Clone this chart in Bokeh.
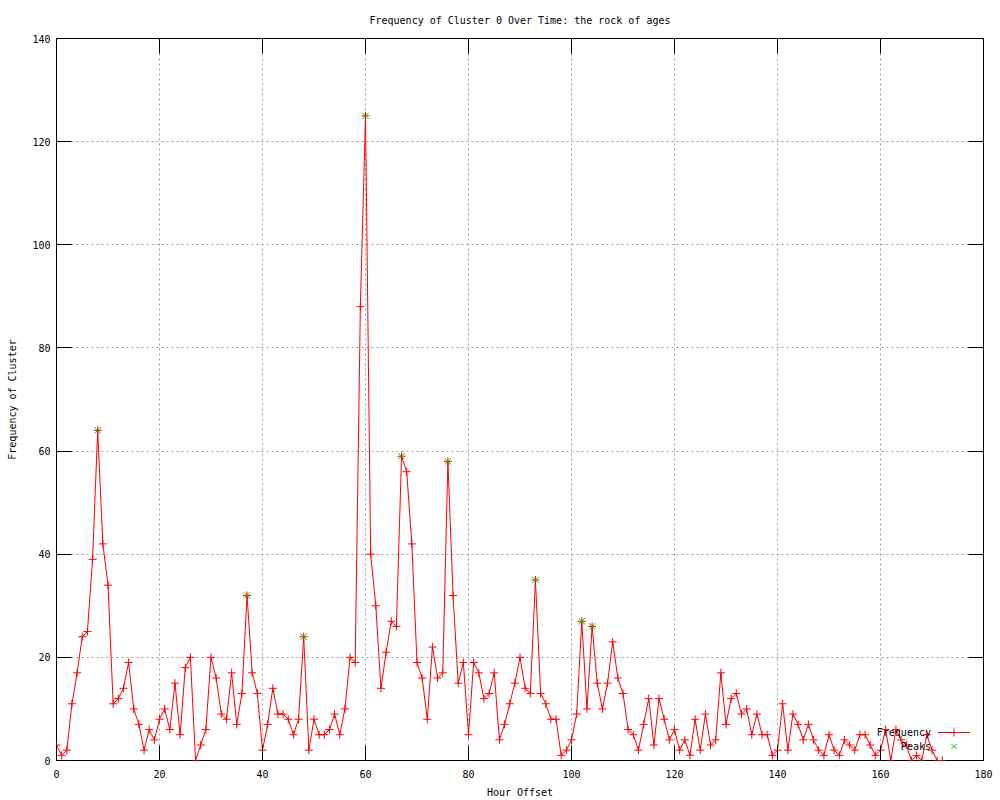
from bokeh.plotting import figure
from bokeh.models import Range1d, FixedTicker, LinearAxis, Legend, LegendItem, Label
from bokeh.embed import file_html
from bokeh.resources import INLINE

# ---- data ----
frequency = [
    3, 1, 2, 11, 17, 24, 25, 39, 64, 42,
    34, 11, 12, 14, 19, 10, 7, 2, 6, 4,
    8, 10, 6, 15, 5, 18, 20, 0, 3, 6,
    20, 16, 9, 8, 17, 7, 13, 32, 17, 13,
    2, 7, 14, 9, 9, 8, 5, 8, 24, 2,
    8, 5, 5, 6, 9, 5, 10, 20, 19, 88,
    125, 40, 30, 14, 21, 27, 26, 59, 56, 42,
    19, 16, 8, 22, 16, 17, 58, 32, 15, 19,
    5, 19, 17, 12, 13, 17, 4, 7, 11, 15,
    20, 14, 13, 35, 13, 11, 8, 8, 1, 2,
    4, 9, 27, 10, 26, 15, 10, 15, 23, 16,
    13, 6, 5, 2, 7, 12, 3, 12, 8, 4,
    6, 2, 4, 1, 8, 2, 9, 3, 4, 17,
    7, 12, 13, 9, 10, 5, 9, 5, 5, 1,
    2, 11, 2, 9, 7, 4, 7, 4, 2, 1,
    5, 2, 1, 4, 3, 2, 5, 5, 3, 1,
    2, 6, 0, 6, 4, 3, 0, 1, 0, 5,
    2, 0, 0,
]
hours = list(range(len(frequency)))

peak_hours = [8, 37, 48, 60, 67, 76, 93, 102, 104]
peak_values = [64, 32, 24, 125, 59, 58, 35, 27, 26]

x_ticks = [0, 20, 40, 60, 80, 100, 120, 140, 160, 180]
y_ticks = [0, 20, 40, 60, 80, 100, 120, 140]

title_text = "Frequency of Cluster 0 Over Time: the rock of ages"
x_label = "Hour Offset"
y_label = "Frequency of Cluster"
series_names = ["Frequency", "Peaks"]

# ---- styling ----
FONT = "DejaVu Sans Mono"
FS = "10px"
RED = "#ff0000"
GREEN = "#00c000"
GRID = "#a0a0a0"

p = figure(
    width=1000, height=800,
    output_backend="svg", toolbar_location=None,
    x_range=Range1d(x_ticks[0], x_ticks[-1]),
    y_range=Range1d(y_ticks[0], y_ticks[-1]),
    min_border_left=56, min_border_right=17,
    min_border_top=38, min_border_bottom=40,
    title=title_text,
)
p.background_fill_color = "white"
p.border_fill_color = "white"
p.outline_line_color = "black"
p.outline_line_width = 1
p.outline_line_alpha = 1.0

p.title.align = "center"
p.title.text_font = FONT
p.title.text_font_size = FS
p.title.text_font_style = "normal"
p.title.text_color = "black"
p.title.standoff = 25

def style_axis(ax):
    ax.axis_line_color = None
    ax.major_tick_in = 15
    ax.major_tick_out = 0
    ax.major_tick_line_color = "black"
    ax.major_tick_line_width = 1
    ax.minor_tick_line_color = None
    ax.major_label_text_font = FONT
    ax.major_label_text_font_size = FS
    ax.major_label_text_color = "black"
    ax.axis_label_text_font = FONT
    ax.axis_label_text_font_size = FS
    ax.axis_label_text_font_style = "normal"
    ax.axis_label_text_color = "black"

xa = p.xaxis[0]
ya = p.yaxis[0]
xa.ticker = FixedTicker(ticks=x_ticks)
ya.ticker = FixedTicker(ticks=y_ticks)
style_axis(xa)
style_axis(ya)
xa.axis_label = x_label
ya.axis_label = y_label
xa.major_label_standoff = 9
xa.axis_label_standoff = 6
ya.major_label_standoff = 6
ya.axis_label_standoff = 11

# mirror ticks on top and right (no labels)
top = LinearAxis(ticker=FixedTicker(ticks=x_ticks))
right = LinearAxis(ticker=FixedTicker(ticks=y_ticks))
for ax, ticks in ((top, x_ticks), (right, y_ticks)):
    style_axis(ax)
    ax.major_label_overrides = {t: "" for t in ticks}
    ax.major_label_standoff = 0
p.add_layout(top, "above")
p.add_layout(right, "right")

p.xgrid[0].ticker = FixedTicker(ticks=x_ticks)
p.ygrid[0].ticker = FixedTicker(ticks=y_ticks)
for g in (p.xgrid[0], p.ygrid[0]):
    g.grid_line_color = GRID
    g.grid_line_dash = "2 3"
    g.grid_line_width = 1

# ---- data marks ----
line_r = p.line(hours, frequency, line_color=RED, line_width=1)
cross_r = p.scatter(hours, frequency, marker="cross", size=8,
                    line_color=RED, line_width=1)
peak_r = p.scatter(peak_hours, peak_values, marker="x", size=9,
                   line_color=GREEN, line_width=1)

# ---- gnuplot-style key: text on the left, sample on the right ----
def key_sample(renderers, loc, gh):
    lg = Legend(
        items=[LegendItem(label="", renderers=renderers)],
        location=loc, orientation="vertical",
        padding=0, margin=0, spacing=0,
        glyph_width=33, glyph_height=gh,
        label_width=0, label_height=gh, label_standoff=0,
        label_text_font_size=FS,
        border_line_color=None, background_fill_alpha=0,
    )
    p.add_layout(lg)

key_sample([line_r, cross_r], (881, 18), 20)
key_sample([peak_r], (881, 5), 18)

key_x = 169.8
key_y = [5.37, 2.77]
for name, ky in zip(series_names, key_y):
    p.add_layout(Label(x=key_x, y=ky, text=name, text_align="right",
                       text_baseline="middle", text_font=FONT,
                       text_font_size=FS, text_color="black"))

open("out.html", "w").write(file_html(p, INLINE))
